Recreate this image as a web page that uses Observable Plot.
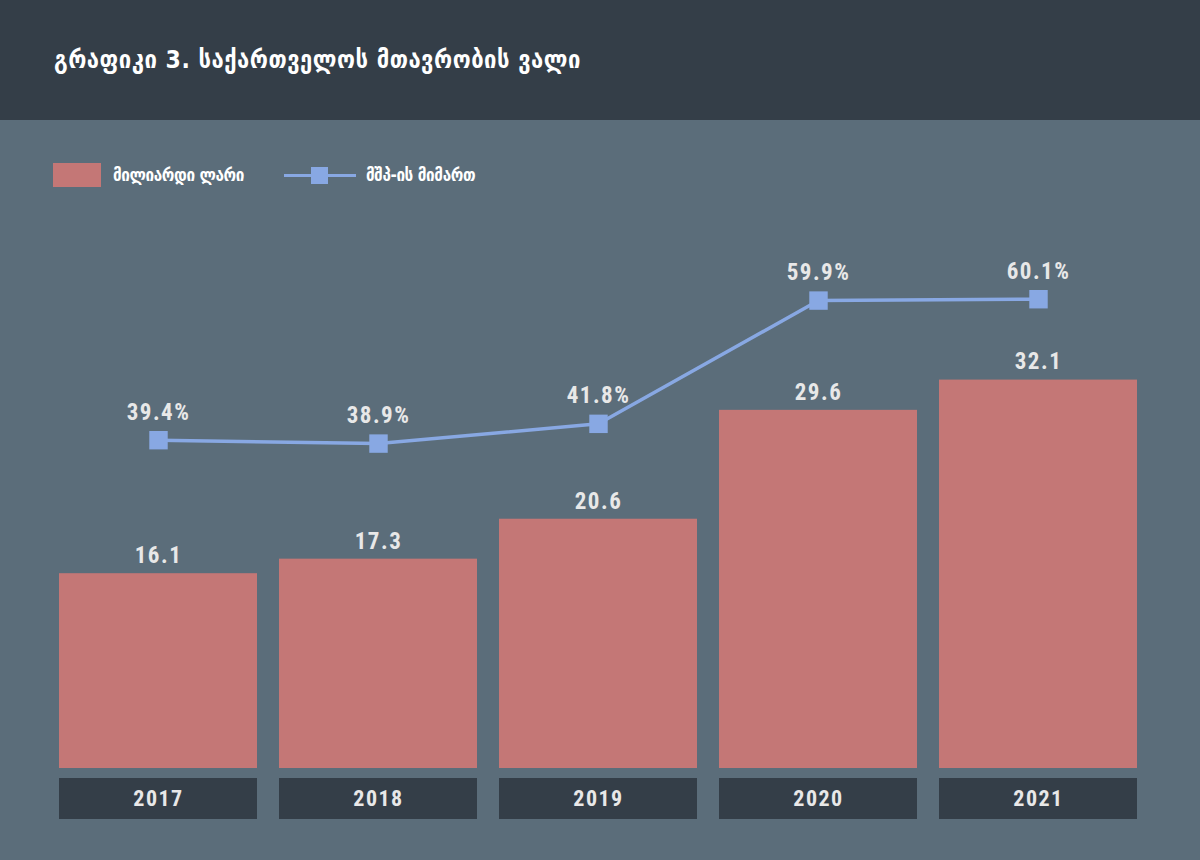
<!DOCTYPE html>
<html>
<head>
<meta charset="utf-8">
<script src="https://cdn.jsdelivr.net/npm/d3@7"></script>
<script src="https://cdn.jsdelivr.net/npm/@observablehq/plot@0.6"></script>
<style>
  body { margin: 0; }
  #wrap { width: 1200px; height: 860px; position: relative; background: #5b6d7a; overflow: hidden; }
  #title { height: 120px; background: #343e48; color: #ffffff; box-sizing: border-box;
           padding-left: 54px; line-height: 120px; font-size: 24.5px; font-weight: bold;
           font-family: "DejaVu Sans Condensed", "DejaVu Sans", sans-serif; letter-spacing: 0.5px; }
  #legend { position: absolute; top: 163px; left: 53px; display: flex; align-items: center;
            color: #ffffff; font-size: 17px; font-weight: bold; letter-spacing: -0.4px;
            font-family: "DejaVu Sans Condensed", "DejaVu Sans", sans-serif; }
  .sw { width: 48px; height: 24px; background: #c47776; margin-right: 12px; }
  .ln { position: relative; width: 72px; height: 24px; margin-left: 40px; margin-right: 10px; }
  .ln::before { content: ""; position: absolute; left: 0; right: 0; top: 11px; height: 3px; background: #88a8e3; }
  .ln::after { content: ""; position: absolute; left: 27px; top: 4px; width: 17px; height: 17px; background: #88a8e3; }
  .layer { position: absolute; left: 0; }
</style>
</head>
<body>
<div id="wrap">
  <div id="title">გრაფიკი 3. საქართველოს მთავრობის ვალი</div>
  <div id="legend">
    <div class="sw"></div><span>მილიარდი ლარი</span>
    <div class="ln"></div><span>მშპ-ის მიმართ</span>
  </div>
  <div id="bars" class="layer" style="top:120px"></div>
  <div id="line" class="layer" style="top:120px"></div>
  <div id="years" class="layer" style="top:778px"></div>
</div>
<script>
const years = ["2017", "2018", "2019", "2020", "2021"];
const debtBn = [16.1, 17.3, 20.6, 29.6, 32.1];
const debtPctGdp = [39.4, 38.9, 41.8, 59.9, 60.1];

const data = years.map((y, i) => ({year: y, debt: debtBn[i], pct: debtPctGdp[i]}));

const labelFont = '"Roboto Condensed", "DejaVu Sans Condensed", sans-serif';
const common = {
  width: 1200,
  marginLeft: 36,
  marginRight: 40,
  style: {background: "transparent", fontFamily: labelFont, letterSpacing: "1.5px"}
};

const bars = Plot.plot({
  ...common,
  height: 740,
  marginTop: 164,
  marginBottom: 92,
  x: {type: "band", domain: years, padding: 0.1, axis: null},
  y: {domain: [0, 40], axis: null},
  marks: [
    Plot.barY(data, {x: "year", y: "debt", fill: "#c47776"}),
    Plot.text(data, {x: "year", y: "debt", text: d => d.debt.toFixed(1), dy: -18,
      fill: "#e8e8e8", fontSize: 23, fontWeight: "bold"})
  ]
});
document.getElementById("bars").appendChild(bars);

const line = Plot.plot({
  ...common,
  height: 740,
  marginTop: 588 - 80 * 6.81,
  marginBottom: 152,
  x: {type: "band", domain: years, padding: 0.1, axis: null},
  y: {domain: [0, 80], axis: null},
  marks: [
    Plot.line(data, {x: "year", y: "pct", stroke: "#88a8e3", strokeWidth: 3.5}),
    Plot.dot(data, {x: "year", y: "pct", symbol: "square", r: 10.4, fill: "#88a8e3", stroke: "none"}),
    Plot.text(data, {x: "year", y: "pct", text: d => d.pct.toFixed(1) + "%", dy: -28,
      fill: "#e8e8e8", fontSize: 23, fontWeight: "bold"})
  ]
});
document.getElementById("line").appendChild(line);

const yearStrip = Plot.plot({
  ...common,
  height: 41,
  marginTop: 0,
  marginBottom: 0,
  x: {type: "band", domain: years, padding: 0.1, axis: null},
  marks: [
    Plot.cell(years, {x: d => d, fill: "#343e48"}),
    Plot.text(years, {x: d => d, text: d => d, fill: "#e8e8e8", fontSize: 22, fontWeight: "bold"})
  ]
});
document.getElementById("years").appendChild(yearStrip);
</script>
</body>
</html>
